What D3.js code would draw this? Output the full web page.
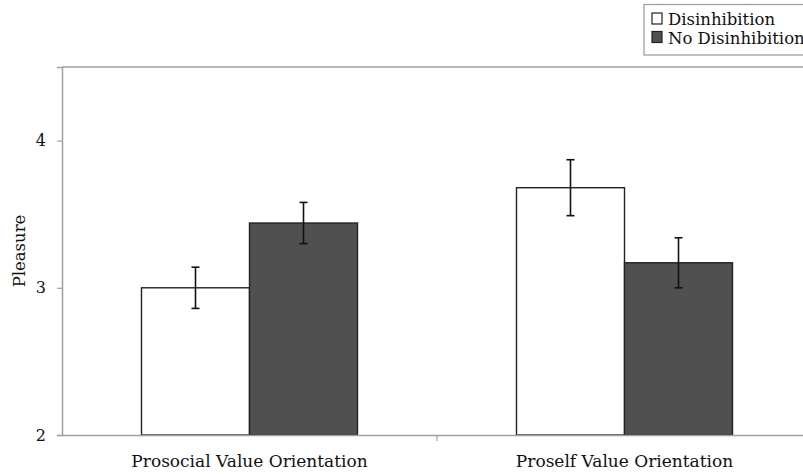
<!DOCTYPE html>
<html>
<head>
<meta charset="utf-8">
<script src="https://cdn.jsdelivr.net/npm/d3@7"></script>
<style>
  html, body { margin: 0; padding: 0; background: #fff; }
  svg { display: block; }
</style>
</head>
<body>
<svg id="chart" width="803" height="474"></svg>
<script>
// Mean pleasure ratings by value orientation and condition
const categories = ["Prosocial Value Orientation", "Proself Value Orientation"];
const seriesNames = ["Disinhibition", "No Disinhibition"];
const disinhibition = [3.00, 3.68];
const noDisinhibition = [3.44, 3.17];
const disinhibitionErr = [0.14, 0.19];
const noDisinhibitionErr = [0.14, 0.17];
const yTicks = [2, 3, 4];

const serif = "'DejaVu Serif', 'Liberation Serif', serif";
const svg = d3.select("#chart").style("font-family", serif);
const plotLeft = 62, plotRight = 812, plotTop = 67, plotBottom = 435;

const x = d3.scaleBand().domain(categories).range([plotLeft, plotRight]).paddingInner(0).paddingOuter(0);
const inner = d3.scaleBand().domain(seriesNames).range([0, x.bandwidth()]).paddingOuter(0.736).paddingInner(0);
const y = d3.scaleLinear().domain([2, 4.5]).range([plotBottom, plotTop]);

const fills = { "Disinhibition": "#ffffff", "No Disinhibition": "#505050" };
const axisColor = "#a0a0a0";

// plot frame: top border
svg.append("line")
  .attr("x1", plotLeft).attr("x2", 803).attr("y1", plotTop).attr("y2", plotTop)
  .attr("stroke", axisColor).attr("stroke-width", 1.5);

const rows = [];
categories.forEach((c, i) => {
  rows.push({ cat: c, s: seriesNames[0], v: disinhibition[i], e: disinhibitionErr[i] });
  rows.push({ cat: c, s: seriesNames[1], v: noDisinhibition[i], e: noDisinhibitionErr[i] });
});

// bars
svg.append("g").selectAll("rect").data(rows).join("rect")
  .attr("x", d => x(d.cat) + inner(d.s))
  .attr("width", inner.bandwidth())
  .attr("y", d => y(d.v))
  .attr("height", d => y(2) - y(d.v))
  .attr("fill", d => fills[d.s])
  .attr("stroke", "#222")
  .attr("stroke-width", 1.4);

// error bars
const eb = svg.append("g").attr("stroke", "#111").attr("stroke-width", 1.6);
rows.forEach(d => {
  const cx = x(d.cat) + inner(d.s) + inner.bandwidth() / 2;
  eb.append("line").attr("x1", cx).attr("x2", cx).attr("y1", y(d.v + d.e)).attr("y2", y(d.v - d.e));
  eb.append("line").attr("x1", cx - 4).attr("x2", cx + 4).attr("y1", y(d.v + d.e)).attr("y2", y(d.v + d.e));
  eb.append("line").attr("x1", cx - 4).attr("x2", cx + 4).attr("y1", y(d.v - d.e)).attr("y2", y(d.v - d.e));
});

// y axis
const yAxis = svg.append("g").attr("transform", `translate(${plotLeft},0)`)
  .call(d3.axisLeft(y).tickValues(yTicks).tickSize(5).tickPadding(11).tickFormat(d3.format("d")))
  .attr("font-family", serif);
yAxis.select(".domain").attr("stroke", axisColor).attr("stroke-width", 1.5);
yAxis.selectAll(".tick line").attr("stroke", axisColor).attr("stroke-width", 1.2);
yAxis.selectAll(".tick text").attr("font-size", 16).attr("fill", "#111");

// x axis
const xAxis = svg.append("g").attr("transform", `translate(0,${plotBottom})`)
  .call(d3.axisBottom(x).tickSize(0).tickPadding(20))
  .attr("font-family", serif);
xAxis.select(".domain").attr("stroke", axisColor).attr("stroke-width", 1.5);
xAxis.selectAll(".tick text").attr("font-size", 17).attr("fill", "#111");
// category separators
svg.append("g").selectAll("line").data(categories.slice(1)).join("line")
  .attr("x1", d => x(d)).attr("x2", d => x(d))
  .attr("y1", plotBottom).attr("y2", plotBottom + 6)
  .attr("stroke", axisColor).attr("stroke-width", 1.2);

// y axis title
svg.append("text")
  .attr("transform", `translate(25,${(plotTop + plotBottom) / 2}) rotate(-90)`)
  .attr("text-anchor", "middle")
  .attr("font-size", 16.5)
  .attr("fill", "#111")
  .text("Pleasure");

// legend
const lg = svg.append("g");
lg.append("rect").attr("x", 644).attr("y", 4.5).attr("width", 170).attr("height", 50.5)
  .attr("fill", "#fff").attr("stroke", axisColor).attr("stroke-width", 1.3);
seriesNames.forEach((s, i) => {
  const yy = 13 + i * 18.5;
  lg.append("rect").attr("x", 652).attr("y", yy).attr("width", 10).attr("height", 11)
    .attr("fill", fills[s]).attr("stroke", "#222").attr("stroke-width", 1.2);
  lg.append("text").attr("x", 668).attr("y", yy + 12).attr("font-size", 16.5).attr("fill", "#111").text(s);
});
</script>
</body>
</html>
